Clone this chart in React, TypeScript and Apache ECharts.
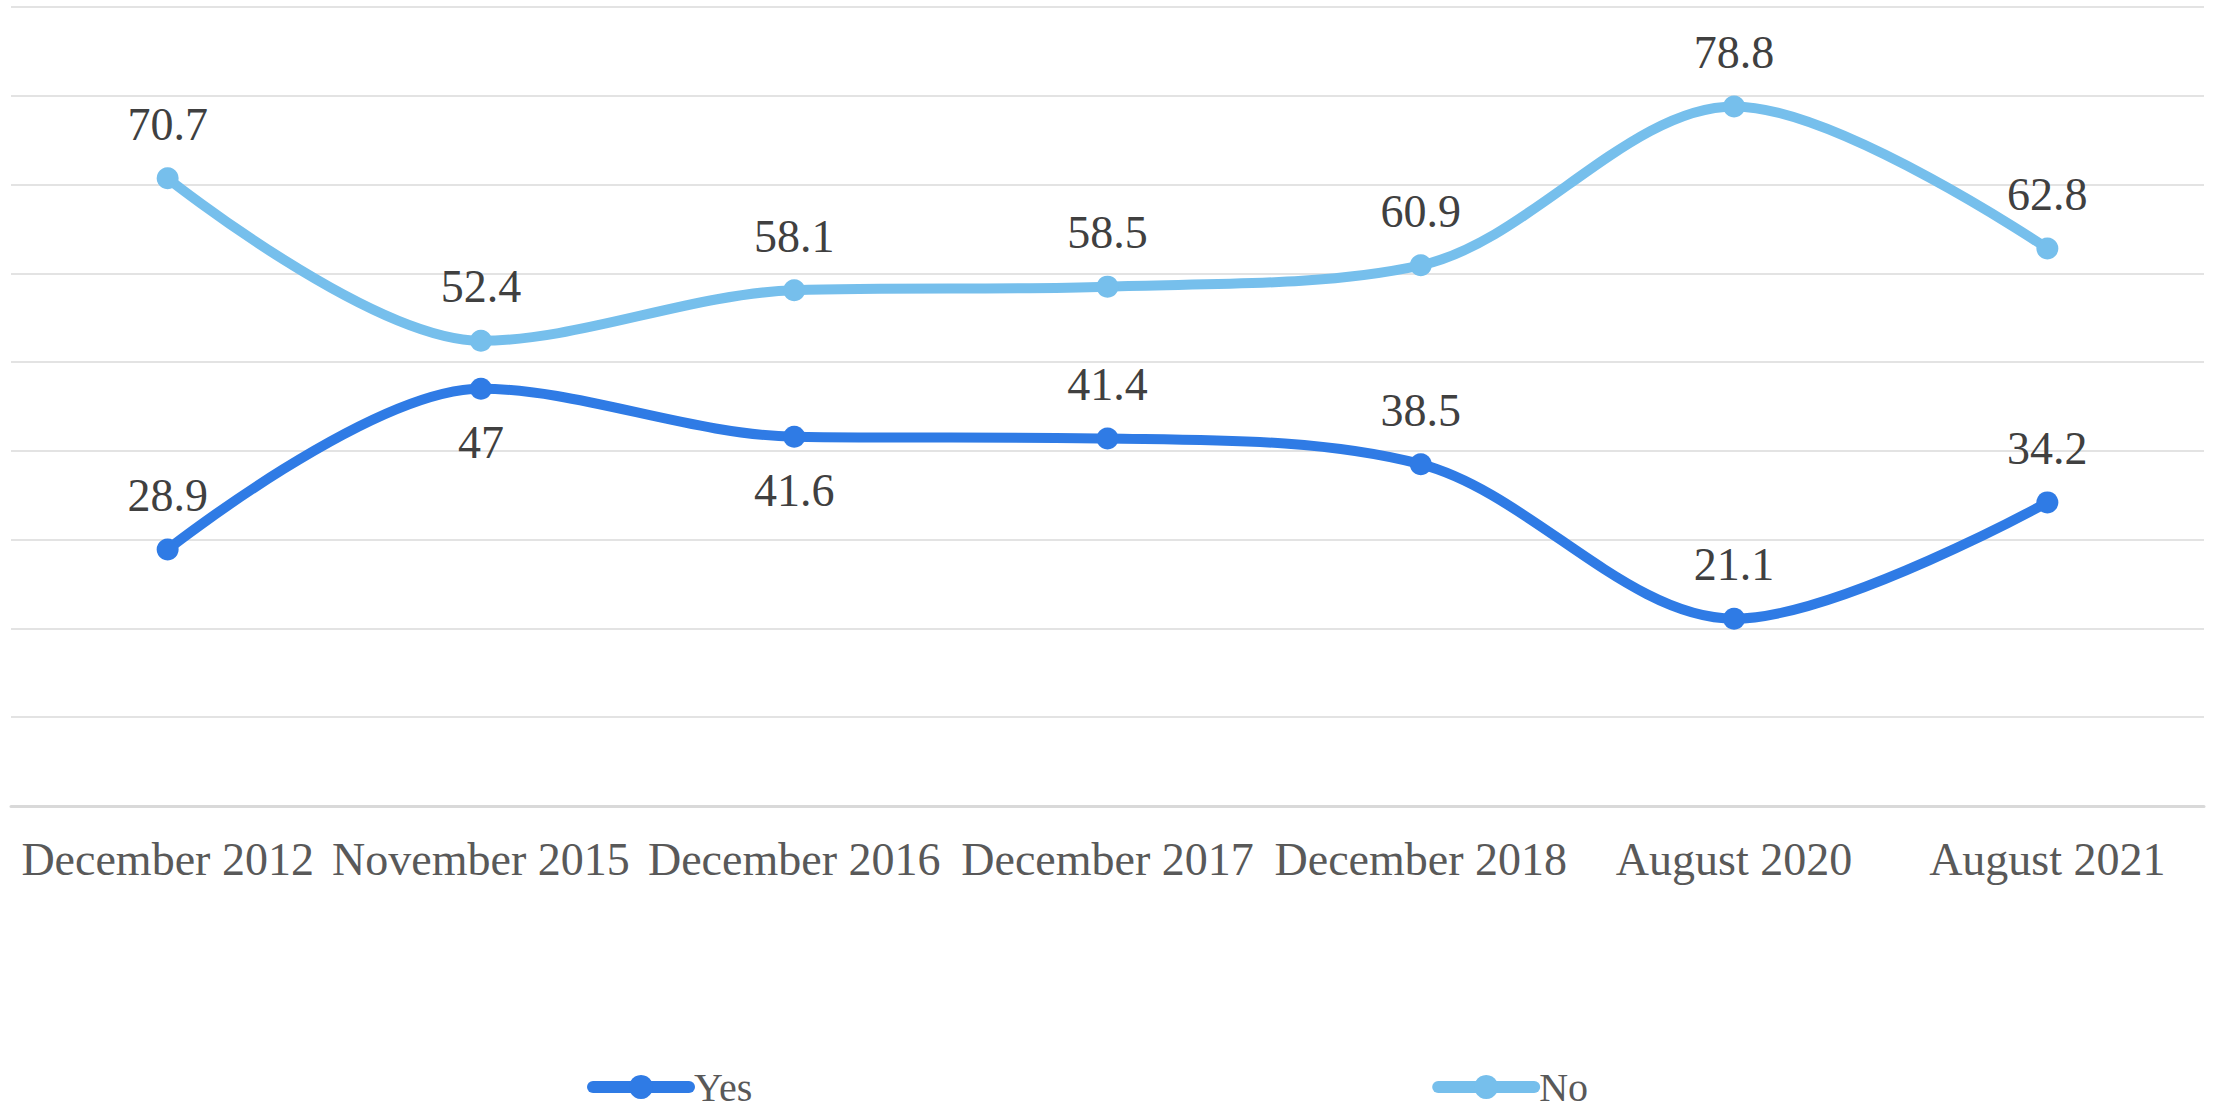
import React, { useEffect, useRef } from "react";
import * as echarts from "echarts";

const categories = [
  "December 2012",
  "November 2015",
  "December 2016",
  "December 2017",
  "December 2018",
  "August 2020",
  "August 2021",
];
const yesValues = [28.9, 47, 41.6, 41.4, 38.5, 21.1, 34.2];
const noValues = [70.7, 52.4, 58.1, 58.5, 60.9, 78.8, 62.8];
const yesLabelPositions = ["top", "bottom", "bottom", "top", "top", "top", "top"];

const FONT = "'Liberation Serif', 'Times New Roman', serif";

export default function App() {
  const ref = useRef<HTMLDivElement>(null);
  useEffect(() => {
    if (!ref.current) return;
    const chart = echarts.init(ref.current, undefined, { renderer: "svg" });
    const labelStyle = {
      show: true,
      fontFamily: FONT,
      fontSize: 46,
      color: "#404040",
      distance: 20,
    };
    chart.setOption({
      animation: false,
      backgroundColor: "#ffffff",
      grid: { left: 11, right: 14, top: 7, bottom: 302, containLabel: false },
      legend: {
        data: ["Yes", "No"],
        top: 1062,
        left: 582,
        itemGap: 680,
        itemWidth: 96,
        itemHeight: 30,
        lineStyle: { width: 12, cap: "round" },
        textStyle: { fontFamily: FONT, fontSize: 40, color: "#595959" },
      },
      xAxis: {
        type: "category",
        data: categories,
        boundaryGap: true,
        axisLine: { show: true, lineStyle: { color: "#D9D9D9", width: 3 } },
        axisTick: { show: false },
        axisLabel: {
          interval: 0,
          margin: 30,
          fontFamily: FONT,
          fontSize: 46,
          color: "#595959",
        },
      },
      yAxis: {
        type: "value",
        min: 0,
        max: 90,
        interval: 10,
        axisLabel: { show: false },
        axisLine: { show: false },
        axisTick: { show: false },
        splitLine: { lineStyle: { color: "#E3E3E3", width: 2 } },
      },
      series: [
        {
          name: "Yes",
          type: "line",
          smooth: 0.33,
          data: yesValues.map((v, i) => ({
            value: v,
            label: { position: yesLabelPositions[i] },
          })),
          symbol: "circle",
          symbolSize: 22,
          itemStyle: { color: "#2F7BE5" },
          lineStyle: { color: "#2F7BE5", width: 10, cap: "round" },
          label: labelStyle,
        },
        {
          name: "No",
          type: "line",
          smooth: 0.33,
          data: noValues,
          symbol: "circle",
          symbolSize: 22,
          itemStyle: { color: "#76BFEC" },
          lineStyle: { color: "#76BFEC", width: 10, cap: "round" },
          label: { ...labelStyle, position: "top" },
        },
      ],
    });
    return () => chart.dispose();
  }, []);
  return (
    <div
      ref={ref}
      style={{ position: "absolute", left: 0, top: 0, width: 2218, height: 1108 }}
    />
  );
}
